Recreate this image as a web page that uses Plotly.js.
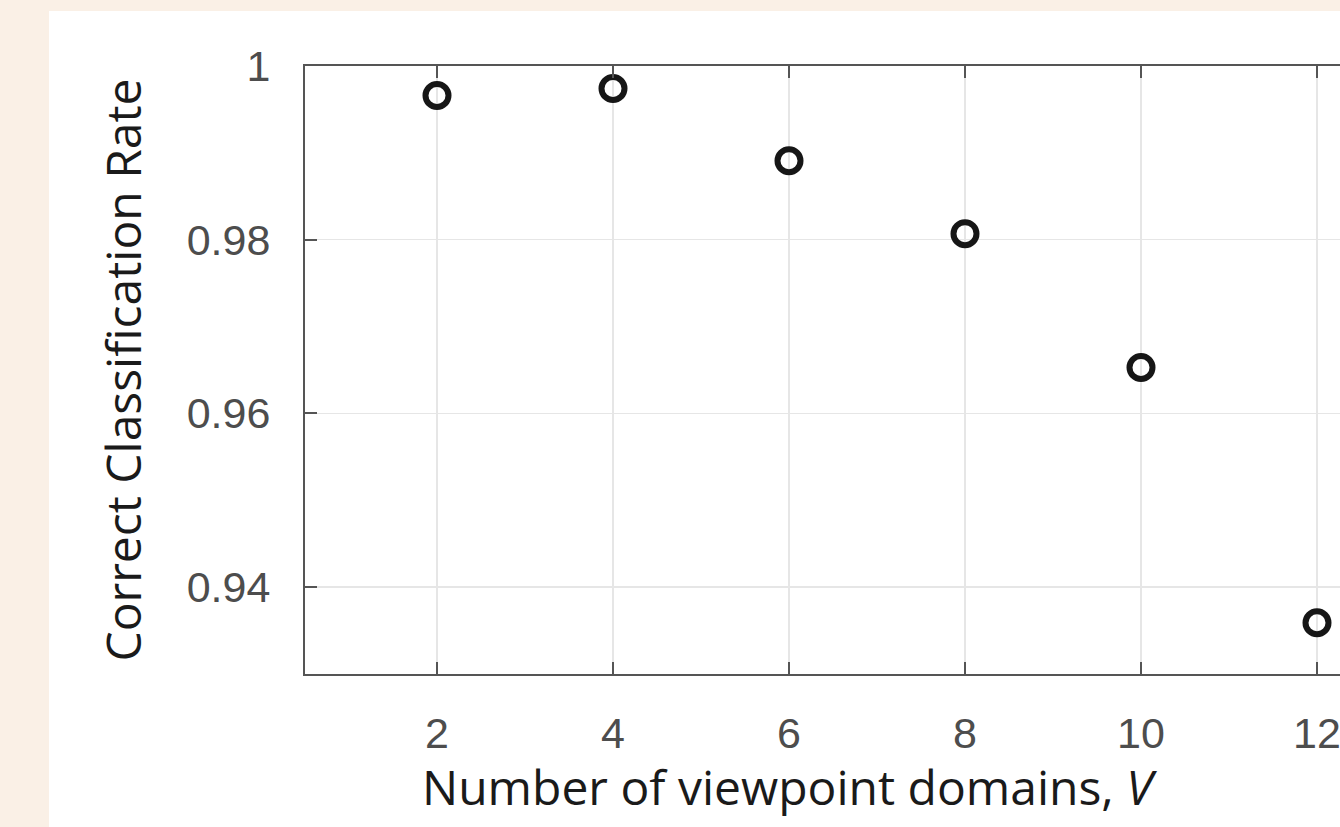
<!DOCTYPE html>
<html>
<head>
<meta charset="utf-8">
<script src="https://cdn.plot.ly/plotly-3.0.1.min.js"></script>
<style>
  html, body { margin: 0; padding: 0; background: #faf0e6; overflow: hidden; width: 1340px; height: 827px; }
  #chart { position: absolute; left: 49px; top: 11px; width: 1352px; height: 816px; }
</style>
</head>
<body>
<div id="chart"></div>
<script>
// Data
const viewpointDomains = [2, 4, 6, 8, 10, 12];
const classificationRate = [0.9966, 0.9974, 0.9891, 0.9807, 0.9653, 0.9359];
const xTickValues = [2, 4, 6, 8, 10, 12];
const yTickValues = [0.94, 0.96, 0.98, 1];
const yTickLabels = ['0.94', '0.96', '0.98', '1'];
const xTitle = 'Number of viewpoint domains, <i>V</i>';
const yTitle = 'Correct Classification Rate';

const axisColor = '#555555';
const gridColor = '#e6e6e6';
const tickFont = { family: '"Liberation Sans", Arial, sans-serif', size: 43, color: '#4d4d4d' };
const titleFont = { family: '"Open Sans", "Noto Sans", sans-serif', size: 48, color: '#1a1a1a' };

const trace = {
  x: viewpointDomains,
  y: classificationRate,
  type: 'scatter',
  mode: 'markers',
  marker: { symbol: 'circle-open', size: 23, color: '#161616', line: { width: 6, color: '#161616' } },
  hoverinfo: 'x+y'
};

const layout = {
  width: 1352,
  height: 816,
  margin: { l: 256, r: 40, t: 55, b: 153 },
  paper_bgcolor: '#ffffff',
  plot_bgcolor: '#ffffff',
  showlegend: false,
  xaxis: {
    range: [0.5, 12.5],
    tickvals: xTickValues,
    ticktext: xTickValues.map(String),
    ticks: 'inside',
    ticklen: 12,
    tickwidth: 2,
    tickcolor: axisColor,
    showline: true,
    linecolor: axisColor,
    linewidth: 2,
    mirror: 'ticks',
    showgrid: true,
    gridcolor: gridColor,
    gridwidth: 1.5,
    zeroline: false,
    tickfont: tickFont,
    ticklabelstandoff: 20
  },
  yaxis: {
    range: [0.93, 1],
    tickvals: yTickValues,
    ticktext: yTickLabels,
    ticks: 'inside',
    ticklen: 12,
    tickwidth: 2,
    tickcolor: axisColor,
    showline: true,
    linecolor: axisColor,
    linewidth: 2,
    mirror: 'ticks',
    showgrid: true,
    gridcolor: gridColor,
    gridwidth: 1.5,
    zeroline: false,
    tickfont: tickFont,
    ticklabelstandoff: 24,
    title: { text: yTitle, font: titleFont, standoff: 30 }
  },
  annotations: [{
    text: xTitle,
    xref: 'paper', yref: 'paper',
    x: 0.459, y: 0,
    xanchor: 'center', yanchor: 'top',
    yshift: -78,
    showarrow: false,
    font: titleFont
  }]
};

Plotly.newPlot('chart', [trace], layout, { displayModeBar: false, staticPlot: true });
</script>
</body>
</html>
